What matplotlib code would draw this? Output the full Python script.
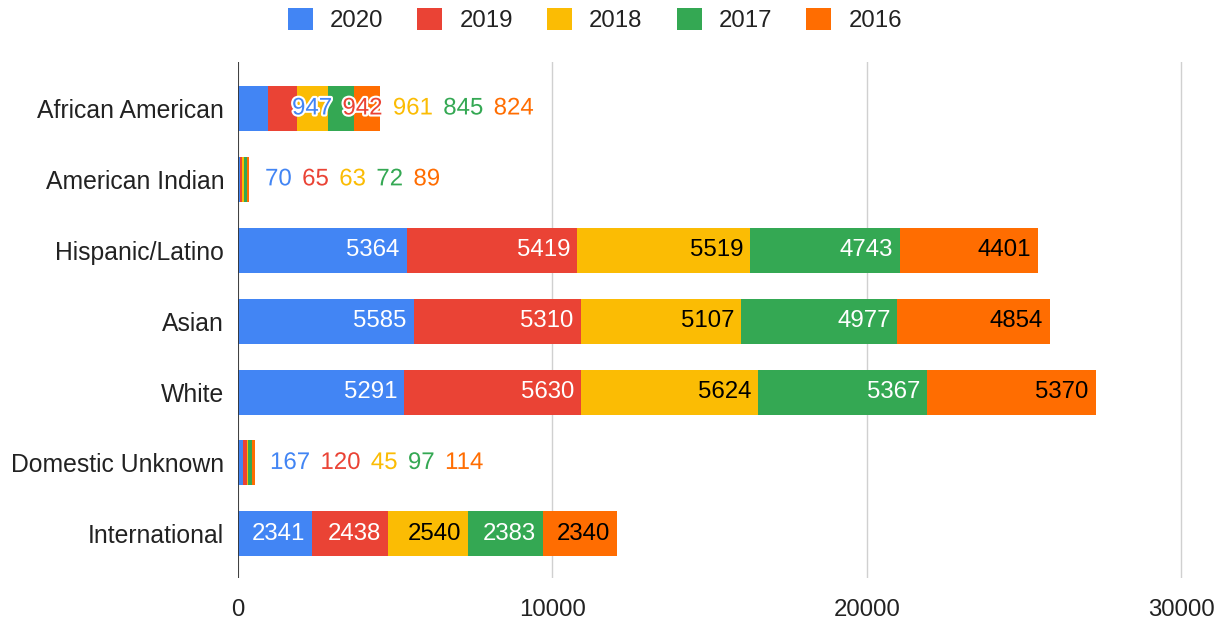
import matplotlib.pyplot as plt
import matplotlib.patheffects as pe
import numpy as np

plt.rcParams['font.family'] = ['Liberation Sans', 'DejaVu Sans']

categories = ["African American", "American Indian", "Hispanic/Latino", "Asian",
              "White", "Domestic Unknown", "International"]
years = ["2020", "2019", "2018", "2017", "2016"]
colors = ["#4285F4", "#EA4335", "#FBBC04", "#34A853", "#FF6D01"]
label_colors = ["white", "white", "black", "white", "black"]

v2020 = [947, 70, 5364, 5585, 5291, 167, 2341]
v2019 = [942, 65, 5419, 5310, 5630, 120, 2438]
v2018 = [961, 63, 5519, 5107, 5624, 45, 2540]
v2017 = [845, 72, 4743, 4977, 5367, 97, 2383]
v2016 = [824, 89, 4401, 4854, 5370, 114, 2340]
series = [v2020, v2019, v2018, v2017, v2016]

# rows whose labels sit outside the bar, with where the label run starts
outside_rows = {0: 1718, 1: 859, 5: 1018}

FS = 17.3

fig = plt.figure(figsize=(12.27, 6.26), dpi=100)
ax = fig.add_axes([0.194, 0.077, 0.7922, 0.824])

y = np.arange(len(categories))
left = np.zeros(len(categories))
for vals, col, name in zip(series, colors, years):
    ax.barh(y, vals, left=left, height=0.635, color=col, label=name, zorder=2)
    left += np.array(vals)

# inside labels (right aligned near the segment end)
left = np.zeros(len(categories))
for vals, lc in zip(series, label_colors):
    for i, v in enumerate(vals):
        if i not in outside_rows:
            ax.annotate(str(v), xy=(left[i] + v, i), xytext=(-5, 0),
                        textcoords="offset points", ha="right", va="center",
                        fontsize=FS, color=lc, zorder=3)
    left += np.array(vals)

# outside labels, laid out one after another in series colour
for i, start in outside_rows.items():
    off = 0.0
    for vals, col in zip(series, colors):
        s = str(vals[i])
        ax.annotate(s, xy=(start, i), xytext=(off, 0), textcoords="offset points",
                    ha="left", va="center", fontsize=FS, color=col, zorder=4,
                    path_effects=[pe.withStroke(linewidth=3, foreground="white")])
        off += (len(s) * 13.3 + 10.5) * 0.72

ax.set_xlim(0, 30000 * 972 / 943)
ax.set_ylim(6.62, -0.656)
ax.set_yticks(y)
ax.set_yticklabels(categories, fontsize=17.8, color="#222222")
ax.set_xticks([0, 10000, 20000, 30000])
ax.set_xticklabels(["0", "10000", "20000", "30000"], fontsize=FS, color="#222222")
ax.tick_params(axis="y", length=0, pad=10)
ax.tick_params(axis="x", length=0, pad=15)
ax.grid(axis="x", color="#d0d0d0", linewidth=1, zorder=0)
for s in ax.spines.values():
    s.set_visible(False)
ax.axvline(0, color="#333333", linewidth=1.3, zorder=3)

ax.legend(loc="center", bbox_to_anchor=(0.367, 1.081), ncol=5, frameon=False,
          fontsize=FS, handlelength=1.04, handleheight=1.04, columnspacing=1.42,
          handletextpad=0.71, labelcolor="#222222", borderpad=0)

fig.savefig("out.png", dpi=100)
